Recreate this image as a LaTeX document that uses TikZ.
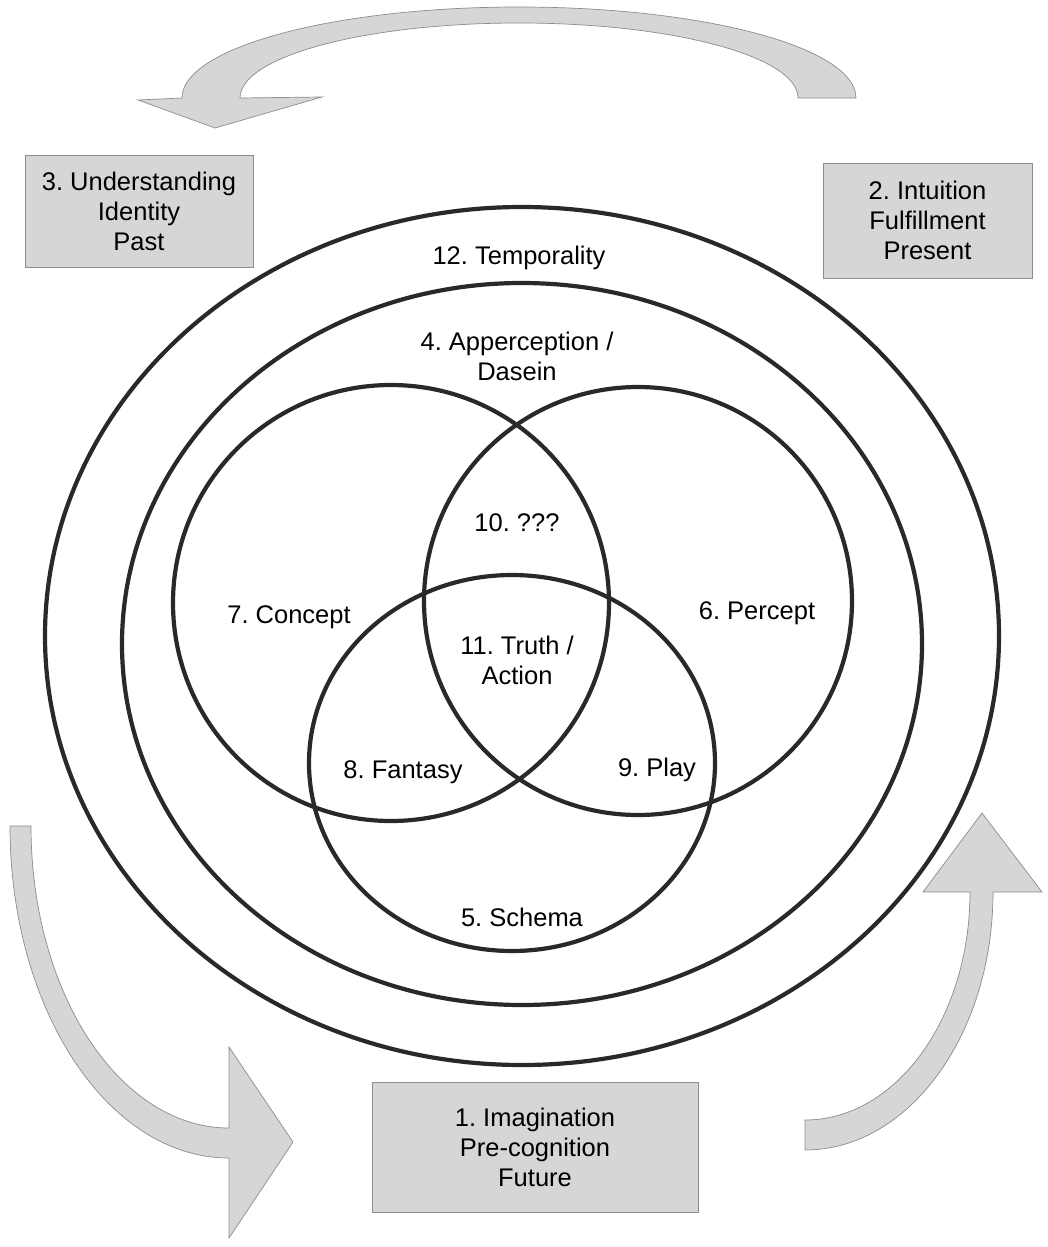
\documentclass[tikz,border=0pt]{standalone}
\usepackage{fontspec}
\setmainfont{Liberation Sans}
\usepackage{tikz}
\frenchspacing

\begin{document}
\begin{tikzpicture}[x=1pt,y=-1pt,
  ring/.style={draw=ringdark,line width=4.2pt},
  flow arrow/.style={fill=shade,draw=rim,line width=0.7pt},
  phase box/.style={rectangle,fill=shade,draw=rim,line width=0.7pt,align=center,
    inner sep=0pt,font=\fontsize{25.5}{30}\selectfont},
  ring label/.style={align=center,inner sep=0pt,font=\fontsize{25.5}{30}\selectfont}]
  \definecolor{shade}{rgb}{0.84,0.84,0.85}
  \definecolor{rim}{rgb}{0.55,0.55,0.55}
  \definecolor{ringdark}{rgb}{0.16,0.16,0.16}

  \useasboundingbox (0,0) rectangle (1047,1247);

  % rings
  \draw[ring] (522,636) ellipse [x radius=477, y radius=429];
  \draw[ring] (522,644) ellipse [x radius=400, y radius=361];
  \draw[ring] (391,603) circle [radius=218];
  \draw[ring] (638,601) circle [radius=214];
  \draw[ring] (512,763) ellipse [x radius=203, y radius=188];

  \node[ring label] (temporality) at (519,258) {12. Temporality};
  \node[ring label] (apperception) at (517,356) {4. Apperception /\\Dasein};
  \node[ring label] (unknown) at (517,523) {10. ???};
  \node[ring label] (concept) at (289,617) {7. Concept};
  \node[ring label] (percept) at (757,613) {6. Percept};
  \node[ring label] (truth) at (517,660) {11. Truth /\\Action};
  \node[ring label] (fantasy) at (403,772) {8. Fantasy};
  \node[ring label] (play) at (657,770) {9. Play};
  \node[ring label] (schema) at (522,917) {5. Schema};

  % phases
  \node[phase box,minimum width=228pt,minimum height=112pt] (understanding) at (139,211)
    {3. Understanding\\Identity\\Past};
  \node[phase box,minimum width=209pt,minimum height=115pt] (intuition) at (927.5,220.5)
    {2. Intuition\\Fulfillment\\Present};
  \node[phase box,minimum width=326pt,minimum height=130pt] (imagination) at (535,1147)
    {1. Imagination\\Pre-cognition\\Future};

  % cycle arrows
  \draw[flow arrow] (856,98) arc[start angle=0,end angle=-180,x radius=337,y radius=91]
    -- (138,100) -- (215,128) -- (322,97) -- (240,98)
    arc[start angle=180,end angle=360,x radius=279,y radius=75] -- cycle;
  \draw[flow arrow] (10,826) arc[start angle=180,end angle=90,x radius=219,y radius=332]
    -- (229,1238) -- (293,1142) -- (229,1047) -- (229,1128)
    arc[start angle=90,end angle=180,x radius=198,y radius=302] -- cycle;
  \draw[flow arrow] (805,1150) arc[start angle=90,end angle=0,x radius=188,y radius=258]
    -- (1042,892) -- (982,813) -- (923,892) -- (970,892)
    arc[start angle=0,end angle=90,x radius=165,y radius=228] -- cycle;
\end{tikzpicture}
\end{document}
